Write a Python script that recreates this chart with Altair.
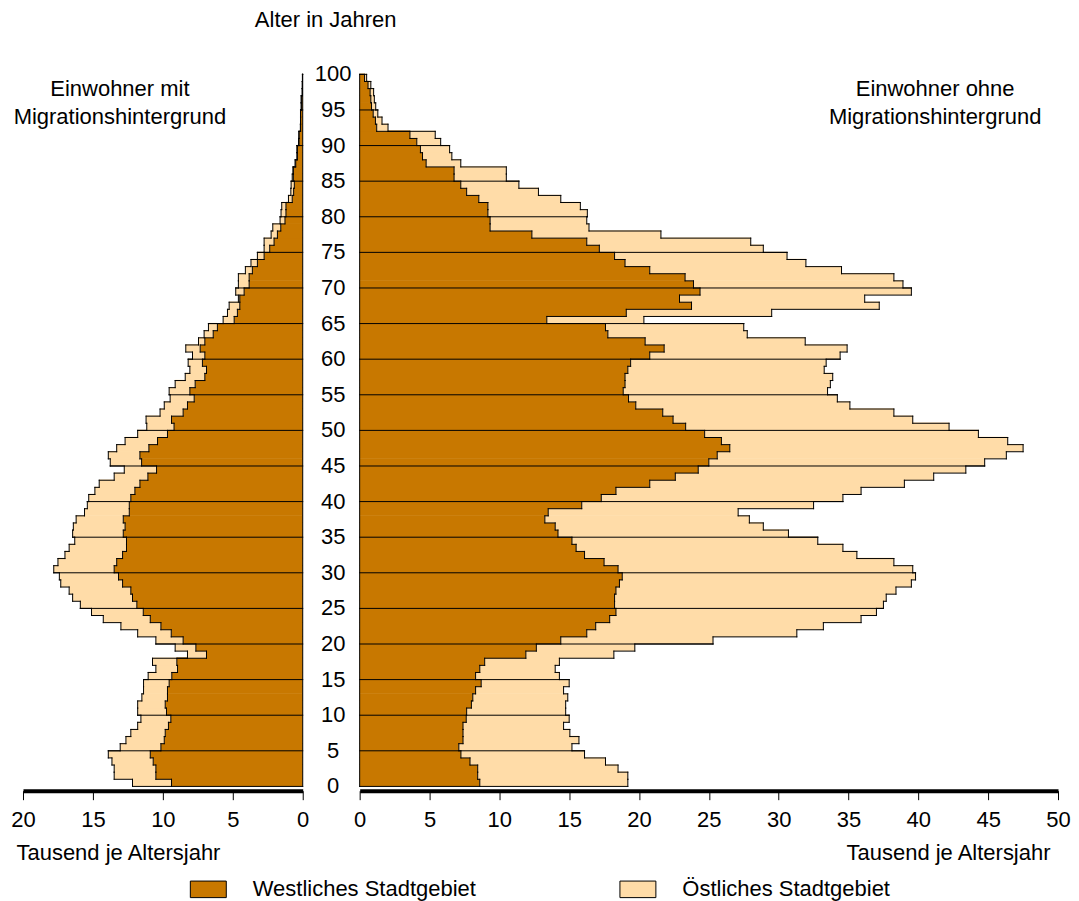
import altair as alt
import pandas as pd

ages = list(range(100))

# Einwohner mit Migrationshintergrund (Tausend), Westlich bzw. Gesamt (West+Ost)
left_west = [9.38, 10.5, 10.5, 10.69, 10.9, 10.14, 9.9, 9.83, 9.6, 9.43,
             9.74, 9.83, 9.67, 9.67, 9.55, 9.36, 8.95, 9.0, 6.88, 7.64,
             8.55, 9.4, 10.14, 10.9, 11.4, 11.86, 12.17, 12.29, 12.88, 13.17,
             13.48, 13.3, 12.88, 12.6, 12.6, 12.83, 12.7, 12.83, 12.4, 12.4,
             12.29, 12.0, 11.64, 11.07, 10.45, 11.52, 11.64, 11.0, 10.38, 9.67,
             9.2, 9.38, 8.55, 8.24, 7.76, 8.07, 7.69, 7.0, 6.88, 7.17,
             7.0, 7.33, 7.0, 6.4, 6.1, 4.9, 4.67, 4.5, 4.5, 4.19,
             3.83, 3.83, 3.6, 3.24, 2.76, 2.36, 2.05, 1.81, 1.57, 1.27,
             1.2, 1.2, 0.75, 0.65, 0.6, 0.67, 0.67, 0.5, 0.38, 0.38,
             0.26, 0.26, 0.15, 0.15, 0.15, 0.1, 0.1, 0.03, 0.03, 0.02]
left_total = [12.17, 13.48, 13.48, 13.64, 13.9, 13.05, 12.64, 12.29, 11.8, 11.57,
              11.8, 11.8, 11.5, 11.38, 11.38, 11.05, 10.5, 10.74, 8.24, 9.12,
              10.5, 11.8, 13.0, 14.26, 15.1, 15.9, 16.45, 16.7, 17.3, 17.4,
              17.8, 17.5, 17.0, 16.7, 16.3, 16.45, 16.4, 16.2, 15.6, 15.4,
              15.3, 14.86, 14.55, 13.48, 12.76, 13.76, 13.9, 13.3, 12.7, 11.8,
              11.15, 11.2, 10.2, 9.9, 9.48, 9.55, 9.12, 8.4, 8.07, 8.19,
              7.88, 8.36, 7.45, 7.05, 6.74, 5.69, 5.38, 5.26, 4.6, 4.79,
              4.6, 4.6, 4.1, 3.7, 3.24, 2.76, 2.76, 2.26, 2.14, 1.62,
              1.55, 1.5, 1.02, 0.85, 0.83, 0.75, 0.7, 0.55, 0.42, 0.42,
              0.3, 0.28, 0.17, 0.16, 0.16, 0.11, 0.11, 0.04, 0.03, 0.02]

# Einwohner ohne Migrationshintergrund (Tausend), Westlich bzw. Gesamt (West+Ost)
right_west = [8.6, 8.45, 8.45, 7.9, 7.25, 7.1, 7.4, 7.4, 7.4, 7.63,
              7.66, 8.0, 8.1, 8.3, 8.7, 8.3, 8.6, 8.95, 11.9, 12.65,
              14.4, 16.26, 16.9, 17.9, 18.35, 18.25, 18.25, 18.35, 18.6, 18.8,
              18.5, 17.5, 16.1, 15.5, 15.2, 14.2, 14.0, 13.26, 13.5, 15.9,
              17.3, 18.35, 20.77, 22.6, 24.24, 25.0, 25.6, 26.5, 25.9, 24.7,
              23.34, 22.44, 21.7, 19.77, 19.25, 18.87, 19.0, 19.0, 19.2, 19.4,
              20.77, 21.8, 20.44, 17.77, 17.6, 13.4, 19.09, 23.76, 22.9, 24.37,
              23.9, 23.3, 20.77, 19.0, 18.25, 17.16, 16.26, 12.33, 9.34, 9.34,
              9.18, 9.18, 8.53, 7.66, 7.24, 6.76, 6.76, 4.76, 4.5, 4.35,
              4.09, 3.6, 1.22, 1.13, 0.97, 0.85, 0.8, 0.75, 0.6, 0.35]
right_total = [19.2, 19.2, 18.5, 17.6, 16.1, 15.2, 15.7, 15.05, 14.6, 15.0,
               14.75, 14.75, 14.9, 14.6, 15.0, 14.3, 14.0, 14.3, 18.2, 19.7,
               25.3, 31.3, 33.2, 35.9, 37.0, 37.5, 37.7, 38.4, 39.5, 39.8,
               39.6, 38.25, 35.6, 34.6, 32.8, 30.7, 28.9, 27.9, 27.1, 32.5,
               34.6, 35.9, 39.0, 41.1, 43.4, 44.75, 46.3, 47.5, 46.4, 44.3,
               42.2, 39.6, 38.25, 35.1, 34.2, 33.5, 33.7, 33.87, 33.26, 33.4,
               34.4, 34.9, 31.9, 27.75, 27.5, 20.35, 29.5, 37.2, 36.16, 39.5,
               38.9, 38.25, 34.5, 31.95, 30.6, 28.9, 28.0, 21.57, 16.42, 16.26,
               16.3, 15.8, 14.4, 12.8, 11.4, 10.5, 10.5, 7.24, 6.6, 6.44,
               5.8, 5.41, 2.03, 1.6, 1.3, 1.15, 1.05, 1.0, 0.8, 0.5]

age_ticks = list(range(0, 101, 5))
left_ticks = list(range(0, 21, 5))
right_ticks = list(range(0, 51, 5))
regions = ["Westliches Stadtgebiet", "Östliches Stadtgebiet"]
colors = ["#C87800", "#FFDCA8"]

FONT = "Liberation Sans"
FS = 22


def rect_table(w, t):
    rows = []
    for a in ages:
        rows.append(dict(age=a, age2=a + 1, x0=0.0, x1=w[a], region=regions[0]))
        rows.append(dict(age=a, age2=a + 1, x0=w[a], x1=t[a], region=regions[1]))
    return pd.DataFrame(rows)


def outline_table(w, t):
    segs = []
    for edge in (w, t):
        for a in ages:
            segs.append(dict(x=edge[a], x2=edge[a], y=a, y2=a + 1))
            nxt = edge[a + 1] if a < len(ages) - 1 else 0.0
            segs.append(dict(x=edge[a], x2=nxt, y=a + 1, y2=a + 1))
    segs.append(dict(x=0.0, x2=t[0], y=0, y2=0))
    for a in age_ticks[1:-1]:
        segs.append(dict(x=0.0, x2=max(t[a - 1], t[a]), y=a, y2=a))
    segs.append(dict(x=0.0, x2=0.0, y=0, y2=100))
    return pd.DataFrame(segs)


def make_axis(ticks, title_x, title_align):
    return alt.Axis(values=ticks, format="d", grid=False, domainWidth=4,
                    domainColor="black", tickColor="black", tickSize=9,
                    tickWidth=1, labelFontSize=FS, labelFont=FONT,
                    labelColor="black", labelPadding=10, labelFlush=False,
                    title="Tausend je Altersjahr", titleFontSize=FS,
                    titleFont=FONT, titleFontWeight="normal",
                    titleColor="black", titleX=title_x, titleY=62,
                    titleAlign=title_align, titleBaseline="middle")


y_scale = alt.Scale(domain=[-0.6, 100], nice=False, zero=False)
color_scale = alt.Scale(domain=regions, range=colors)


def panel(w, t, xmax, reverse, ticks, title_x, title_align, legend):
    xs = alt.Scale(domain=[0, xmax], reverse=reverse, nice=False, zero=True)
    ax = make_axis(ticks, title_x, title_align)
    bars = alt.Chart(rect_table(w, t)).mark_rect(
        strokeWidth=0, y2Offset=-0.7).encode(
        x=alt.X("x0:Q", scale=xs, axis=ax),
        x2="x1:Q",
        y=alt.Y("age:Q", scale=y_scale, axis=None),
        y2="age2:Q",
        color=alt.Color("region:N", scale=color_scale, legend=legend),
    )
    lines = alt.Chart(outline_table(w, t)).mark_rule(
        color="black", strokeWidth=1, strokeCap="square").encode(
        x=alt.X("x:Q", scale=xs, axis=ax),
        x2="x2:Q",
        y=alt.Y("y:Q", scale=y_scale, axis=None),
        y2="y2:Q",
    )
    return bars, lines


legend = alt.Legend(orient="none", legendX=167, legendY=797,
                    direction="horizontal", title=None,
                    symbolType="M-1,-0.46H1V0.46H-1Z", symbolSize=1296,
                    symbolStrokeColor="black", symbolStrokeWidth=1,
                    symbolOpacity=1, labelFontSize=FS, labelFont=FONT,
                    labelColor="black", labelOffset=26, labelLimit=0,
                    columnPadding=141, padding=0)

lb, ll = panel(left_west, left_total, 20, True, left_ticks, -7, "left", legend)
rb, rl = panel(right_west, right_total, 50, False, right_ticks, 691, "right", None)

left_title = alt.Chart(pd.DataFrame({"t": ["Einwohner mit\nMigrationshintergrund"]})).mark_text(
    font=FONT, fontSize=FS, align="center", baseline="alphabetic", lineBreak="\n",
    lineHeight=28, color="black").encode(text="t:N", x=alt.value(97), y=alt.value(22))
right_title = alt.Chart(pd.DataFrame({"t": ["Einwohner ohne\nMigrationshintergrund"]})).mark_text(
    font=FONT, fontSize=FS, align="center", baseline="alphabetic", lineBreak="\n",
    lineHeight=28, color="black").encode(text="t:N", x=alt.value(576), y=alt.value(22))
age_title = alt.Chart(pd.DataFrame({"t": ["Alter in Jahren"]})).mark_text(
    font=FONT, fontSize=FS, align="center", baseline="alphabetic",
    color="black").encode(text="t:N", x=alt.value(-34), y=alt.value(-47))
age_labels = alt.Chart(pd.DataFrame({"age": age_ticks})).mark_text(
    font=FONT, fontSize=FS, align="center", baseline="middle",
    color="black").encode(
    y=alt.Y("age:Q", scale=y_scale, axis=None), x=alt.value(-26.5), text="age:Q")

left = alt.layer(lb, ll, left_title).properties(width=280, height=717)
right = alt.layer(rb, rl, age_labels, age_title, right_title).properties(width=699, height=717)

chart = alt.hconcat(left, right, spacing=57, bounds="flush").resolve_scale(
    x="independent", color="shared").configure(
    padding={"left": 2, "top": 1, "right": 0, "bottom": 0}, font=FONT
).configure_view(stroke=None)

chart.save("out.html", embed_options={"renderer": "svg", "actions": False})
